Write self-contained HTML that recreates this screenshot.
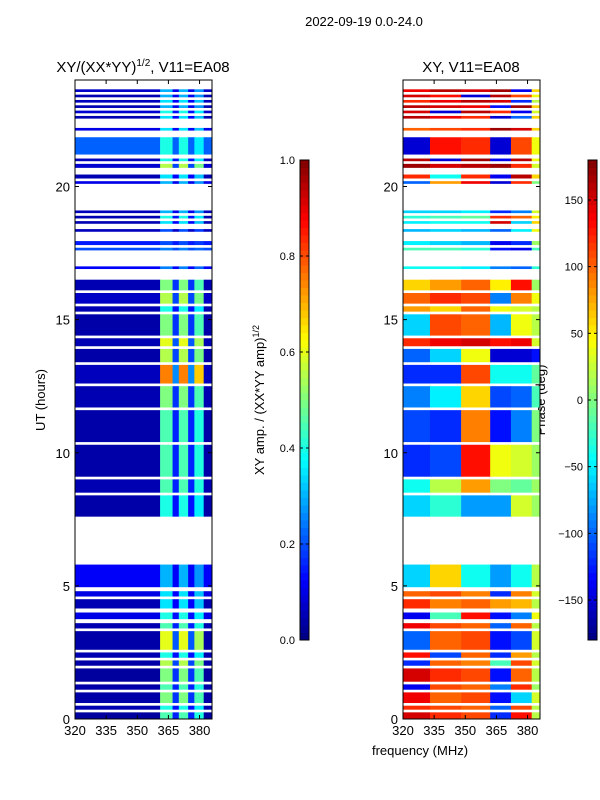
<!DOCTYPE html>
<html><head><meta charset="utf-8">
<style>
html,body{margin:0;padding:0;background:#fff;}
svg{display:block;font-family:"Liberation Sans",sans-serif;}
</style></head>
<body>
<svg id="fig" width="600" height="800" viewBox="0 0 600 800">
<text x="364" y="26" font-size="13" text-anchor="middle">2022-09-19 0.0-24.0</text>
<text x="143" y="72" font-size="15" text-anchor="middle">XY/(XX*YY)<tspan font-size="10" dy="-6">1/2</tspan><tspan dy="6">, V11=EA08</tspan></text>
<text x="471" y="72" font-size="15" text-anchor="middle">XY, V11=EA08</text>
<text transform="translate(45,400) rotate(-90)" font-size="13" text-anchor="middle">UT (hours)</text>
<text transform="translate(264,400) rotate(-90)" font-size="13" text-anchor="middle">XY amp. / (XX*YY amp)<tspan font-size="9" dy="-5">1/2</tspan></text>
<text transform="translate(545,400) rotate(-90)" font-size="13" text-anchor="middle">Phase (deg)</text>
<text x="420" y="755" font-size="13" text-anchor="middle">frequency (MHz)</text>
<g id="layer"></g>
</svg>
<script>
// ---- data ----
const utStart = [0.0,0.35,0.6,1.1,1.4,2.0,2.3,2.6,3.4,3.75,4.15,4.6,4.95,7.6,8.5,9.1,10.4,11.7,12.6,13.4,14.0,14.4,15.3,15.6,16.1,16.9,17.6,17.8,18.3,18.6,18.8,19.0,20.1,20.3,20.7,20.95,21.2,22.1,22.55,22.75,22.95,23.15,23.35,23.55];
const utEnd   = [0.25,0.5,1.0,1.3,1.9,2.2,2.5,3.3,3.6,4.0,4.5,4.8,5.8,8.4,9.0,10.3,11.6,12.5,13.3,13.9,14.3,15.2,15.5,16.0,16.5,17.0,17.7,17.95,18.4,18.7,18.9,19.1,20.2,20.45,20.85,21.05,21.85,22.2,22.65,22.85,23.05,23.25,23.45,23.65];
const ampLow  = [0.03,0.05,0.04,0.04,0.03,0.04,0.05,0.04,0.05,0.1,0.05,0.1,0.12,0.04,0.05,0.04,0.04,0.05,0.06,0.04,0.05,0.04,0.05,0.07,0.05,0.12,0.2,0.15,0.06,0.05,0.05,0.06,0.1,0.05,0.08,0.06,0.22,0.1,0.05,0.08,0.05,0.06,0.05,0.07];
const ampHigh = [0.45,0.4,0.5,0.45,0.5,0.55,0.4,0.6,0.45,0.4,0.35,0.35,0.3,0.4,0.45,0.45,0.45,0.5,0.75,0.55,0.6,0.5,0.4,0.55,0.5,0.25,0.25,0.2,0.2,0.35,0.4,0.3,0.3,0.35,0.55,0.4,0.4,0.35,0.35,0.4,0.3,0.35,0.3,0.3];
const freqEdges = [320,361,367,370,374.5,377.5,382,386];
const bandShape = [1,1.0,0.35,1.0,0.35,0.9,0.2];
const phaseEdges = [320,333,348,362,372,382,386];
const phaseRows = [
 [150,120,110,-120,130,20],[120,110,100,-100,110,20],[140,100,110,-130,-60,30],[-140,110,100,-90,120,10],[150,120,110,-130,100,20],
 [-120,100,90,-20,110,30],[130,-110,100,-120,80,20],[-100,100,110,-130,-110,30],[140,110,100,-100,100,20],[-140,-20,130,-130,-90,40],
 [120,90,100,80,70,20],[100,110,90,-120,90,30],[-60,60,-40,-80,-40,20],
 [-60,-30,-80,-80,30,10],[-40,20,80,0,-10,10],[-120,-110,130,40,30,10],[-110,-120,90,-130,-90,0],[-90,-50,60,-110,-100,-20],
 [-120,-120,110,-40,-40,-10],[-100,-60,40,-150,-150,-130],[120,140,150,130,140,30],[-60,110,100,-70,40,20],[80,60,100,40,30,20],
 [100,120,110,-90,90,40],[60,80,100,50,130,10],[-40,-40,-50,-90,-100,-30],[-20,-20,-30,-130,-140,-20],[-50,-60,-70,-140,-120,10],
 [-70,-60,-70,-100,-50,40],[-50,-40,-40,150,-60,60],[-30,-20,-10,120,100,50],[-60,-60,-50,-120,-90,30],
 [-100,80,140,-150,120,0],[120,-40,120,-140,160,60],[170,150,160,170,120,30],[160,-150,170,-140,160,40],
 [-150,130,120,-150,110,40],[100,110,120,170,150,60],[160,140,120,-150,-100,60],[150,-150,160,120,-140,30],[160,150,140,-130,170,60],[120,140,160,150,-120,20],[150,130,-150,160,110,40],[140,160,150,170,-140,60]];
const ampTicks = [0,0.2,0.4,0.6,0.8,1.0];
const phaseTicks = [-150,-100,-50,0,50,100,150];
const utTicks = [0,5,10,15,20];
const freqTicks = [320,335,350,365,380];

// ---- layout ----
const NS="http://www.w3.org/2000/svg";
const layer=document.getElementById('layer');
const plotTop=80, plotBot=719;
const yUT = u => plotBot - (u/24)*(plotBot-plotTop);
const panels=[{x0:75,x1:212},{x0:403,x1:540}];
const xF = (p,f) => p.x0 + (f-320)/(386-320)*(p.x1-p.x0);
function jet(v){v=Math.max(0,Math.min(1,v));
 const r=Math.max(0,Math.min(1,1.5-Math.abs(4*v-3))),g=Math.max(0,Math.min(1,1.5-Math.abs(4*v-2))),b=Math.max(0,Math.min(1,1.5-Math.abs(4*v-1)));
 return `rgb(${Math.round(r*255)},${Math.round(g*255)},${Math.round(b*255)})`;}
function mk(tag,attrs,parent){const e=document.createElementNS(NS,tag);for(const k in attrs)e.setAttribute(k,attrs[k]);(parent||layer).appendChild(e);return e;}

// heatmaps
for(let i=0;i<utStart.length;i++){
 const y0=yUT(utEnd[i]), y1=yUT(utStart[i]);
 for(let b=0;b<freqEdges.length-1;b++){
  const v = b===0||b===freqEdges.length-2 ? ampLow[i] : Math.max(ampLow[i], ampHigh[i]*bandShape[b]);
  const r=mk('rect',{x:xF(panels[0],freqEdges[b]),y:y0,width:xF(panels[0],freqEdges[b+1])-xF(panels[0],freqEdges[b])+0.3,height:Math.max(1,y1-y0),fill:jet(v)});
  
  
 }
 for(let b=0;b<phaseEdges.length-1;b++){
  const v=(phaseRows[i][b]+180)/360;
  const r=mk('rect',{x:xF(panels[1],phaseEdges[b]),y:y0,width:xF(panels[1],phaseEdges[b+1])-xF(panels[1],phaseEdges[b])+0.3,height:Math.max(1,y1-y0),fill:jet(v)});
  
  
 }
}
// panel frames and ticks
panels.forEach((p,pi)=>{
 const f=mk('rect',{x:p.x0,y:plotTop,width:p.x1-p.x0,height:plotBot-plotTop,fill:'none',stroke:'#000','stroke-width':1});
 
 
 utTicks.forEach(u=>{const y=yUT(u);
  mk('line',{x1:p.x0,x2:p.x0+4,y1:y,y2:y,stroke:'#000'});mk('line',{x1:p.x1,x2:p.x1-4,y1:y,y2:y,stroke:'#000'});
  const t=mk('text',{x:p.x0-5,y:y+5,'font-size':13,'text-anchor':'end'});t.textContent=u;
  
  });
 freqTicks.forEach(fq=>{const x=xF(p,fq);
  mk('line',{x1:x,x2:x,y1:plotBot,y2:plotBot-4,stroke:'#000'});mk('line',{x1:x,x2:x,y1:plotTop,y2:plotTop+4,stroke:'#000'});
  const t=mk('text',{x:x,y:plotBot+16,'font-size':13,'text-anchor':'middle'});t.textContent=fq;
  
  });
});
// colorbars
function colorbar(x,ticks,lo,hi,fmt,name){
 const y0=160,y1=640,w=9,n=64;
 for(let k=0;k<n;k++){const r=mk('rect',{x:x,y:y1-(k+1)*(y1-y0)/n,width:w,height:(y1-y0)/n+0.5,fill:jet((k+0.5)/n)});
  
  }
 const fr=mk('rect',{x:x,y:y0,width:w,height:y1-y0,fill:'none',stroke:'#000'});
 
 
 ticks.forEach(t=>{const y=y1-(t-lo)/(hi-lo)*(y1-y0);
  mk('line',{x1:x,x2:x+3,y1:y,y2:y,stroke:'#000'});mk('line',{x1:x+w,x2:x+w-3,y1:y,y2:y,stroke:'#000'});
  const tx=mk('text',{x:x-5,y:y+4,'font-size':11,'text-anchor':'end'});tx.textContent=fmt(t);
  
  });
}
colorbar(300,ampTicks,0,1,t=>t.toFixed(1),'amp-colorbar');
colorbar(588,phaseTicks,-180,180,t=>t<0?'\u2212'+(-t):String(t),'phase-colorbar');
</script>
</body></html>
